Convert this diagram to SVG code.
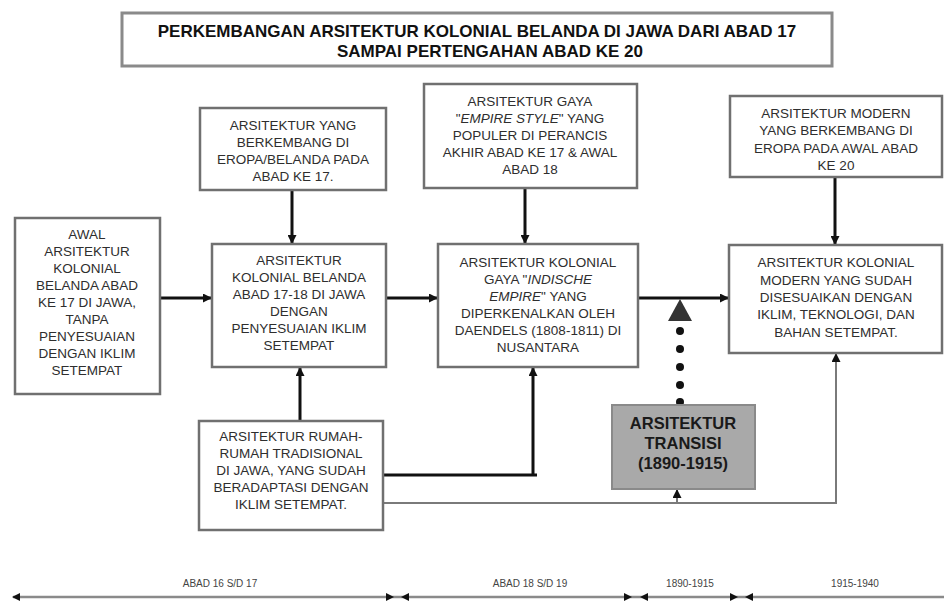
<svg xmlns="http://www.w3.org/2000/svg" width="944" height="601" viewBox="0 0 944 601">
<defs>
<style>
.box{fill:#fff;stroke:#707070;stroke-width:2.5}
.t{font-family:"Liberation Sans",Arial,sans-serif;font-size:13.5px;fill:#2e2e2e;text-anchor:middle}
.title{font-family:"Liberation Sans",Arial,sans-serif;font-size:17px;font-weight:bold;fill:#111;text-anchor:middle}
.tr{font-family:"Liberation Sans",Arial,sans-serif;font-size:16.5px;font-weight:bold;fill:#1a1a1a;text-anchor:middle}
.tl{font-family:"Liberation Sans",Arial,sans-serif;font-size:10px;fill:#444;text-anchor:middle}
.thick{fill:none;stroke:#111;stroke-width:3}
.thin{fill:none;stroke:#7a7a7a;stroke-width:2}
</style>
<marker id="arr" markerUnits="userSpaceOnUse" markerWidth="9" markerHeight="9" refX="8" refY="4.5" orient="auto">
<path d="M0,0 L9,4.5 L0,9 z" fill="#111"/>
</marker>
</defs>

<g id="title">
<rect x="122" y="13" width="710" height="53" fill="#fff" stroke="#8a8a8a" stroke-width="3"/>
<text class="title" x="477" y="37">PERKEMBANGAN ARSITEKTUR KOLONIAL BELANDA DI JAWA DARI ABAD 17</text>
<text class="title" x="490" y="57">SAMPAI PERTENGAHAN ABAD KE 20</text>
</g>

<g id="connectors">
<path class="thick" d="M160,298 H211" marker-end="url(#arr)"/>
<path class="thick" d="M292,190 V243" marker-end="url(#arr)"/>
<path class="thick" d="M386,298 H437" marker-end="url(#arr)"/>
<path class="thick" d="M525,188 V243" marker-end="url(#arr)"/>
<path class="thick" d="M638,298 H728" marker-end="url(#arr)"/>
<path class="thick" d="M835,177 V244" marker-end="url(#arr)"/>
<path class="thick" d="M300,421 V368" marker-end="url(#arr)"/>
<path class="thick" d="M383,475 H537 M533,475 V368" marker-end="url(#arr)"/>
<path class="thin" d="M383,503 H836 V354" marker-end="url(#arr)"/>
<path class="thin" d="M677,503 V490" marker-end="url(#arr)"/>
<polygon points="680,299 668,321 692,321" fill="#333"/>
<g fill="#111">
<circle cx="680" cy="331" r="4"/>
<circle cx="680" cy="349" r="4"/>
<circle cx="680" cy="367" r="4"/>
<circle cx="680" cy="385" r="4"/>
<circle cx="680" cy="402" r="4"/>
</g>
</g>

<g id="awal">
<rect class="box" x="15" y="218" width="145" height="176"/>
<text class="t" x="87" y="239">AWAL</text>
<text class="t" x="87" y="256">ARSITEKTUR</text>
<text class="t" x="87" y="273">KOLONIAL</text>
<text class="t" x="87" y="290">BELANDA ABAD</text>
<text class="t" x="87" y="307">KE 17 DI JAWA,</text>
<text class="t" x="87" y="324">TANPA</text>
<text class="t" x="87" y="341">PENYESUAIAN</text>
<text class="t" x="87" y="358">DENGAN IKLIM</text>
<text class="t" x="87" y="375">SETEMPAT</text>
</g>

<g id="eropa17">
<rect class="box" x="200" y="108" width="186" height="82"/>
<text class="t" x="293" y="130">ARSITEKTUR YANG</text>
<text class="t" x="293" y="147">BERKEMBANG DI</text>
<text class="t" x="293" y="164">EROPA/BELANDA PADA</text>
<text class="t" x="293" y="181">ABAD KE 17.</text>
</g>

<g id="kolonial1718">
<rect class="box" x="212" y="244" width="174" height="123"/>
<text class="t" x="299" y="265">ARSITEKTUR</text>
<text class="t" x="299" y="282">KOLONIAL BELANDA</text>
<text class="t" x="299" y="299">ABAD 17-18 DI JAWA</text>
<text class="t" x="299" y="316">DENGAN</text>
<text class="t" x="299" y="333">PENYESUAIAN IKLIM</text>
<text class="t" x="299" y="350">SETEMPAT</text>
</g>

<g id="empire">
<rect class="box" x="424" y="84" width="213" height="104"/>
<text class="t" x="530" y="106">ARSITEKTUR GAYA</text>
<text class="t" x="530" y="123">"<tspan font-style="italic">EMPIRE STYLE</tspan>" YANG</text>
<text class="t" x="530" y="140">POPULER DI PERANCIS</text>
<text class="t" x="530" y="157">AKHIR ABAD KE 17 &amp; AWAL</text>
<text class="t" x="530" y="174">ABAD 18</text>
</g>

<g id="indische">
<rect class="box" x="438" y="244" width="200" height="123"/>
<text class="t" x="538" y="267">ARSITEKTUR  KOLONIAL</text>
<text class="t" x="538" y="284">GAYA  "<tspan font-style="italic">INDISCHE</tspan></text>
<text class="t" x="538" y="301"><tspan font-style="italic">EMPIRE</tspan>" YANG</text>
<text class="t" x="538" y="318">DIPERKENALKAN OLEH</text>
<text class="t" x="538" y="335">DAENDELS (1808-1811) DI</text>
<text class="t" x="538" y="352">NUSANTARA</text>
</g>

<g id="modern-eropa">
<rect class="box" x="730" y="96" width="212" height="81"/>
<text class="t" x="836" y="118">ARSITEKTUR MODERN</text>
<text class="t" x="836" y="135">YANG BERKEMBANG DI</text>
<text class="t" x="836" y="153">EROPA PADA AWAL ABAD</text>
<text class="t" x="836" y="170">KE 20</text>
</g>

<g id="kolonial-modern">
<rect class="box" x="729" y="245" width="213" height="108"/>
<text class="t" x="836" y="267">ARSITEKTUR KOLONIAL</text>
<text class="t" x="836" y="285">MODERN YANG SUDAH</text>
<text class="t" x="836" y="302">DISESUAIKAN DENGAN</text>
<text class="t" x="836" y="319">IKLIM, TEKNOLOGI, DAN</text>
<text class="t" x="836" y="337">BAHAN SETEMPAT.</text>
</g>

<g id="tradisional">
<rect class="box" x="199" y="421" width="184" height="109"/>
<text class="t" x="291" y="441">ARSITEKTUR RUMAH-</text>
<text class="t" x="291" y="458">RUMAH TRADISIONAL</text>
<text class="t" x="291" y="475">DI JAWA, YANG SUDAH</text>
<text class="t" x="291" y="492">BERADAPTASI DENGAN</text>
<text class="t" x="291" y="509">IKLIM SETEMPAT.</text>
</g>

<g id="transisi">
<rect x="612" y="405" width="143" height="84" fill="#a9a9a9" stroke="#8a8a8a" stroke-width="2"/>
<text class="tr" x="683" y="429">ARSITEKTUR</text>
<text class="tr" x="683" y="449">TRANSISI</text>
<text class="tr" x="683" y="469">(1890-1915)</text>
</g>

<g id="timeline">
<line x1="13" y1="597" x2="944" y2="597" stroke="#8a8a8a" stroke-width="2.5"/>
<g fill="#111">
<polygon points="12,597 20,593 20,601"/>
<polygon points="394,597 386,593 386,601"/>
<polygon points="401,597 409,593 409,601"/>
<polygon points="632,597 624,593 624,601"/>
<polygon points="640,597 648,593 648,601"/>
<polygon points="738,597 730,593 730,601"/>
<polygon points="745,597 753,593 753,601"/>
</g>
<text class="tl" x="220" y="587">ABAD 16 S/D 17</text>
<text class="tl" x="530" y="587">ABAD 18 S/D 19</text>
<text class="tl" x="690" y="587">1890-1915</text>
<text class="tl" x="855" y="587">1915-1940</text>
</g>
</svg>
